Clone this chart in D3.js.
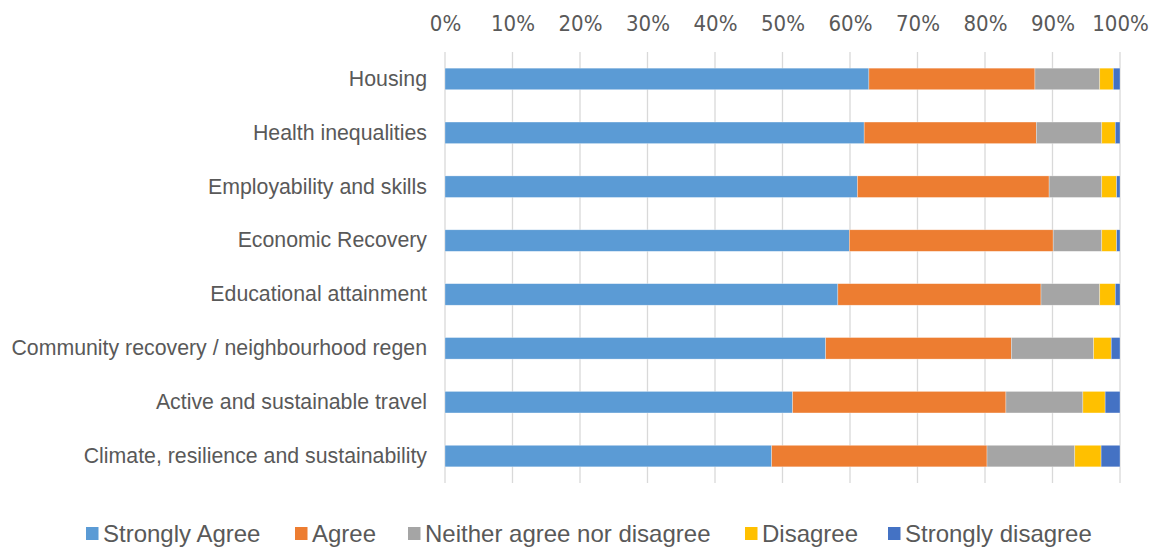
<!DOCTYPE html>
<html>
<head>
<meta charset="utf-8">
<script src="https://cdn.jsdelivr.net/npm/d3@7"></script>
<style>
  body { margin: 0; background: #fff; }
</style>
</head>
<body>
<svg id="chart"></svg>
<script>
const categories = [
  'Housing',
  'Health inequalities',
  'Employability and skills',
  'Economic Recovery',
  'Educational attainment',
  'Community recovery / neighbourhood regen',
  'Active and sustainable travel',
  'Climate, resilience and sustainability'
];
const seriesNames = ['Strongly Agree', 'Agree', 'Neither agree nor disagree', 'Disagree', 'Strongly disagree'];
const seriesColors = ['#5B9BD5', '#ED7D31', '#A5A5A5', '#FFC000', '#4472C4'];

// percentages per category, in series order
const stronglyAgree = [62.8, 62.1, 61.1, 59.9, 58.2, 56.4, 51.5, 48.4];
const agree         = [24.6, 25.5, 28.4, 30.2, 30.1, 27.5, 31.6, 31.9];
const neither       = [9.6, 9.7, 7.8, 7.2, 8.7, 12.2, 11.4, 13.0];
const disagree      = [2.0, 2.0, 2.2, 2.2, 2.3, 2.6, 3.3, 3.9];
const stronglyDis   = [1.0, 0.7, 0.5, 0.5, 0.7, 1.3, 2.2, 2.8];

const tickValues = [0, 10, 20, 30, 40, 50, 60, 70, 80, 90, 100];

const width = 1154;
const height = 547;
const margin = { top: 52, right: 34, bottom: 64, left: 445 };

const svg = d3.select('#chart')
  .attr('width', width)
  .attr('height', height);

const g = svg.append('g')
  .attr('transform', `translate(${margin.left},${margin.top})`);

const innerW = width - margin.left - margin.right;
const innerH = height - margin.top - margin.bottom;

const x = d3.scaleLinear().domain([0, 100]).range([0, innerW]);
const y = d3.scaleBand().domain(categories).range([0, innerH]).paddingInner(0.6).paddingOuter(0.3);

// build rows for stacking
const rows = categories.map((c, i) => ({
  category: c,
  'Strongly Agree': stronglyAgree[i],
  'Agree': agree[i],
  'Neither agree nor disagree': neither[i],
  'Disagree': disagree[i],
  'Strongly disagree': stronglyDis[i]
}));
const stacked = d3.stack().keys(seriesNames)(rows);

// gridlines
g.append('g')
  .selectAll('line')
  .data(tickValues)
  .enter()
  .append('line')
  .attr('x1', d => x(d))
  .attr('x2', d => x(d))
  .attr('y1', 0)
  .attr('y2', innerH)
  .attr('stroke', '#D9D9D9')
  .attr('stroke-width', 1.3);

// bars
g.selectAll('.series')
  .data(stacked)
  .enter()
  .append('g')
  .attr('fill', (d, i) => seriesColors[i])
  .selectAll('rect')
  .data(d => d)
  .enter()
  .append('rect')
  .attr('x', d => x(d[0]))
  .attr('y', d => y(d.data.category))
  .attr('width', d => x(d[1]) - x(d[0]))
  .attr('height', y.bandwidth())
  .attr('stroke', 'rgba(255,255,255,0.5)')
  .attr('stroke-width', 0.6);

// top axis labels
const xAxis = g.append('g')
  .attr('transform', 'translate(0,-21)')
  .call(d3.axisTop(x).tickValues(tickValues).tickFormat(d => d + '%').tickSize(0).tickPadding(0));
xAxis.select('.domain').remove();
xAxis.selectAll('text')
  .attr('fill', '#595959')
  .style('font-family', '"Liberation Sans Narrow", "DejaVu Sans Condensed", sans-serif')
  .style('font-size', '22px');

// category axis
const yAxis = g.append('g')
  .call(d3.axisLeft(y).tickSize(0).tickPadding(18));
yAxis.select('.domain').remove();
yAxis.selectAll('text')
  .attr('fill', '#595959')
  .style('font-family', 'Arial, "Liberation Sans", sans-serif')
  .style('font-size', '21.3px');

// legend
const legendX = [86, 295, 408, 745, 888];
const legend = svg.append('g').attr('transform', 'translate(0,542)');
const items = legend.selectAll('g')
  .data(seriesNames)
  .enter()
  .append('g')
  .attr('transform', (d, i) => `translate(${legendX[i]},0)`);
items.append('rect')
  .attr('x', 0)
  .attr('y', -15)
  .attr('width', 12.5)
  .attr('height', 13)
  .attr('fill', (d, i) => seriesColors[i]);
items.append('text')
  .attr('x', 17)
  .attr('y', 0)
  .attr('fill', '#595959')
  .style('font-family', 'Arial, "Liberation Sans", sans-serif')
  .style('font-size', '24px')
  .text(d => d);
</script>
</body>
</html>
